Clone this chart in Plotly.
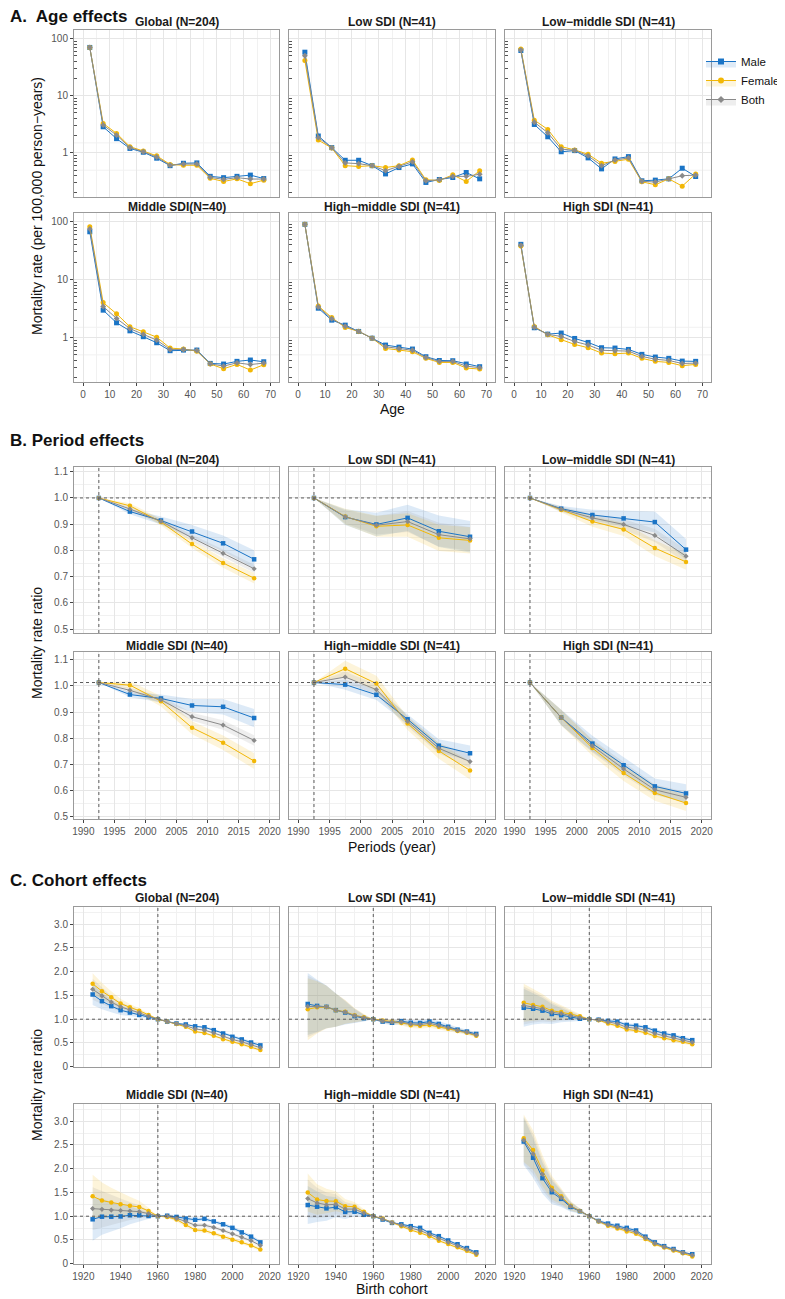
import plotly.graph_objects as go

# ---------------- data ----------------
age_groups = [2.5, 7.5, 12.5, 17.5, 22.5, 27.5, 32.5, 37.5, 42.5, 47.5, 52.5, 57.5, 62.5, 67.5]
periods = [1992.5, 1997.5, 2002.5, 2007.5, 2012.5, 2017.5]
cohorts = [1925, 1930, 1935, 1940, 1945, 1950, 1955, 1960, 1965, 1970,
           1975, 1980, 1985, 1990, 1995, 2000, 2005, 2010, 2015]

age_titles = ["Global (N=204)", "Low SDI (N=41)", "Low\u2212middle SDI (N=41)",
              "Middle SDI(N=40)", "High\u2212middle SDI (N=41)", "High SDI (N=41)"]
pc_titles = ["Global (N=204)", "Low SDI (N=41)", "Low\u2212middle SDI (N=41)",
             "Middle SDI (N=40)", "High\u2212middle SDI (N=41)", "High SDI (N=41)"]

# Age effects: mortality rate per 100,000 person-years
age_global_male = [70, 2.87, 1.78, 1.20, 1.03, 0.81, 0.60, 0.66, 0.67, 0.39, 0.37, 0.39, 0.41, 0.357]
age_global_female = [70, 3.28, 2.20, 1.29, 1.08, 0.89, 0.63, 0.61, 0.61, 0.36, 0.317, 0.353, 0.29, 0.335]
age_global_both = [70, 3.07, 2.05, 1.24, 1.05, 0.85, 0.61, 0.64, 0.64, 0.375, 0.345, 0.37, 0.35, 0.35]

age_low_male = [57.8, 1.98, 1.24, 0.745, 0.745, 0.60, 0.43, 0.556, 0.644, 0.305, 0.344, 0.372, 0.455, 0.353]
age_low_female = [41.4, 1.68, 1.22, 0.60, 0.58, 0.60, 0.556, 0.60, 0.756, 0.34, 0.33, 0.414, 0.317, 0.49]
age_low_both = [50, 1.85, 1.23, 0.67, 0.65, 0.60, 0.49, 0.58, 0.70, 0.326, 0.34, 0.39, 0.39, 0.425]

age_lowmid_male = [61.8, 3.15, 1.92, 1.05, 1.10, 0.82, 0.527, 0.786, 0.863, 0.326, 0.335, 0.353, 0.541, 0.388]
age_lowmid_female = [66, 3.75, 2.58, 1.29, 1.13, 0.95, 0.66, 0.707, 0.776, 0.313, 0.278, 0.353, 0.263, 0.43]
age_lowmid_both = [63, 3.45, 2.26, 1.17, 1.11, 0.89, 0.60, 0.75, 0.82, 0.32, 0.31, 0.353, 0.40, 0.41]

age_mid_male = [67, 2.96, 1.79, 1.30, 1.03, 0.81, 0.59, 0.605, 0.605, 0.356, 0.347, 0.386, 0.407, 0.38]
age_mid_female = [82, 4.0, 2.56, 1.53, 1.25, 1.01, 0.655, 0.63, 0.58, 0.347, 0.288, 0.342, 0.273, 0.338]
age_mid_both = [75, 3.42, 2.13, 1.42, 1.13, 0.90, 0.62, 0.62, 0.595, 0.35, 0.32, 0.364, 0.34, 0.36]

age_highmid_male = [90, 3.2, 1.99, 1.63, 1.27, 0.97, 0.738, 0.68, 0.63, 0.464, 0.40, 0.396, 0.347, 0.312]
age_highmid_female = [90, 3.5, 2.2, 1.49, 1.27, 0.97, 0.646, 0.605, 0.566, 0.435, 0.37, 0.37, 0.296, 0.284]
age_highmid_both = [90, 3.35, 2.1, 1.56, 1.27, 0.97, 0.69, 0.64, 0.60, 0.45, 0.385, 0.385, 0.32, 0.30]

age_high_male = [40.6, 1.47, 1.14, 1.19, 0.96, 0.82, 0.664, 0.655, 0.62, 0.51, 0.458, 0.435, 0.39, 0.386]
age_high_female = [38, 1.55, 1.11, 0.91, 0.757, 0.664, 0.537, 0.523, 0.537, 0.435, 0.386, 0.37, 0.325, 0.342]
age_high_both = [39, 1.5, 1.13, 1.04, 0.85, 0.74, 0.60, 0.59, 0.58, 0.47, 0.42, 0.40, 0.355, 0.36]

# Period effects: mortality rate ratio, with half-widths of the confidence bands
per_global_male = [1.0, 0.948, 0.914, 0.872, 0.827, 0.766]
per_global_female = [1.0, 0.970, 0.908, 0.824, 0.752, 0.694]
per_global_both = [1.0, 0.958, 0.911, 0.848, 0.789, 0.730]
per_global_male_hw = [0, 0.010, 0.015, 0.025, 0.030, 0.035]
per_global_female_hw = [0, 0.010, 0.012, 0.015, 0.018, 0.020]
per_global_both_hw = [0, 0.008, 0.010, 0.012, 0.014, 0.015]

per_low_male = [1.0, 0.927, 0.899, 0.924, 0.873, 0.852]
per_low_female = [1.0, 0.929, 0.892, 0.897, 0.848, 0.838]
per_low_both = [1.0, 0.928, 0.896, 0.910, 0.860, 0.844]
per_low_male_hw = [0, 0.030, 0.045, 0.050, 0.060, 0.060]
per_low_female_hw = [0, 0.030, 0.040, 0.045, 0.050, 0.050]
per_low_both_hw = [0, 0.025, 0.035, 0.040, 0.045, 0.045]

per_lowmid_male = [1.0, 0.959, 0.935, 0.922, 0.908, 0.803]
per_lowmid_female = [1.0, 0.954, 0.910, 0.880, 0.809, 0.756]
per_lowmid_both = [1.0, 0.957, 0.924, 0.899, 0.857, 0.778]
per_lowmid_male_hw = [0, 0.010, 0.020, 0.030, 0.040, 0.040]
per_lowmid_female_hw = [0, 0.010, 0.020, 0.025, 0.030, 0.030]
per_lowmid_both_hw = [0, 0.010, 0.015, 0.020, 0.025, 0.025]

per_mid_male = [1.013, 0.967, 0.952, 0.925, 0.920, 0.877]
per_mid_female = [1.013, 1.003, 0.941, 0.840, 0.782, 0.712]
per_mid_both = [1.013, 0.983, 0.947, 0.882, 0.850, 0.791]
per_mid_male_hw = [0, 0.010, 0.015, 0.025, 0.030, 0.035]
per_mid_female_hw = [0, 0.015, 0.020, 0.025, 0.028, 0.030]
per_mid_both_hw = [0, 0.010, 0.012, 0.015, 0.018, 0.020]

per_highmid_male = [1.013, 1.005, 0.966, 0.872, 0.771, 0.742]
per_highmid_female = [1.013, 1.066, 1.009, 0.856, 0.751, 0.676]
per_highmid_both = [1.013, 1.034, 0.986, 0.864, 0.761, 0.710]
per_highmid_male_hw = [0, 0.020, 0.020, 0.020, 0.025, 0.030]
per_highmid_female_hw = [0, 0.030, 0.030, 0.025, 0.030, 0.035]
per_highmid_both_hw = [0, 0.020, 0.020, 0.020, 0.020, 0.025]

per_high_male = [1.013, 0.879, 0.779, 0.696, 0.615, 0.588]
per_high_female = [1.013, 0.879, 0.762, 0.666, 0.590, 0.551]
per_high_both = [1.013, 0.879, 0.770, 0.682, 0.602, 0.573]
per_high_male_hw = [0, 0.030, 0.030, 0.030, 0.030, 0.035]
per_high_female_hw = [0, 0.030, 0.030, 0.030, 0.030, 0.030]
per_high_both_hw = [0, 0.030, 0.025, 0.025, 0.020, 0.020]

period_ref = [1.0, 1.0, 1.0, 1.013, 1.013, 1.013]

# Cohort effects: mortality rate ratio, with half-widths of the confidence bands
coh_global_male = [1.52, 1.38, 1.275, 1.19, 1.14, 1.09, 1.04, 1.0, 0.95, 0.91, 0.89, 0.85, 0.83, 0.77, 0.70, 0.63, 0.575, 0.51, 0.45]
coh_global_female = [1.745, 1.59, 1.46, 1.33, 1.25, 1.18, 1.09, 1.0, 0.95, 0.90, 0.84, 0.74, 0.71, 0.65, 0.58, 0.525, 0.475, 0.42, 0.35]
coh_global_both = [1.63, 1.49, 1.36, 1.26, 1.20, 1.135, 1.06, 1.0, 0.95, 0.905, 0.865, 0.795, 0.77, 0.71, 0.64, 0.575, 0.525, 0.465, 0.40]
coh_global_hw = [0.22, 0.17, 0.13, 0.10, 0.07, 0.05, 0.03, 0, 0.01, 0.015, 0.02, 0.02, 0.025, 0.025, 0.025, 0.03, 0.03, 0.03, 0.03]

coh_low_male = [1.32, 1.28, 1.26, 1.19, 1.14, 1.065, 1.02, 1.0, 0.95, 0.925, 0.96, 0.925, 0.92, 0.95, 0.90, 0.84, 0.78, 0.74, 0.69]
coh_low_female = [1.21, 1.25, 1.255, 1.19, 1.155, 1.085, 1.04, 1.0, 0.975, 0.95, 0.92, 0.875, 0.86, 0.88, 0.84, 0.80, 0.75, 0.715, 0.65]
coh_low_both = [1.27, 1.265, 1.26, 1.19, 1.15, 1.075, 1.03, 1.0, 0.96, 0.94, 0.94, 0.90, 0.89, 0.915, 0.87, 0.82, 0.765, 0.73, 0.67]
coh_low_hw = [0.65, 0.55, 0.45, 0.35, 0.25, 0.15, 0.07, 0, 0.04, 0.05, 0.05, 0.06, 0.06, 0.06, 0.06, 0.05, 0.05, 0.04, 0.04]

coh_lowmid_male = [1.24, 1.22, 1.18, 1.11, 1.085, 1.04, 1.01, 1.0, 0.99, 0.965, 0.95, 0.88, 0.865, 0.83, 0.76, 0.70, 0.66, 0.60, 0.56]
coh_lowmid_female = [1.345, 1.30, 1.26, 1.18, 1.15, 1.11, 1.06, 1.0, 0.98, 0.91, 0.86, 0.785, 0.76, 0.715, 0.645, 0.60, 0.56, 0.525, 0.475]
coh_lowmid_both = [1.29, 1.26, 1.22, 1.145, 1.12, 1.075, 1.035, 1.0, 0.985, 0.94, 0.905, 0.83, 0.81, 0.77, 0.70, 0.65, 0.61, 0.56, 0.515]
coh_lowmid_hw = [0.40, 0.33, 0.27, 0.21, 0.15, 0.10, 0.05, 0, 0.02, 0.03, 0.03, 0.035, 0.035, 0.035, 0.035, 0.035, 0.035, 0.035, 0.035]

coh_mid_male = [0.935, 0.99, 0.99, 0.995, 1.02, 1.02, 1.005, 1.0, 1.01, 0.985, 0.95, 0.925, 0.945, 0.89, 0.83, 0.755, 0.66, 0.57, 0.45]
coh_mid_female = [1.42, 1.33, 1.29, 1.25, 1.22, 1.195, 1.11, 1.0, 0.985, 0.93, 0.815, 0.71, 0.70, 0.64, 0.57, 0.506, 0.45, 0.386, 0.30]
coh_mid_both = [1.16, 1.145, 1.13, 1.12, 1.11, 1.095, 1.055, 1.0, 1.0, 0.955, 0.89, 0.81, 0.81, 0.765, 0.70, 0.63, 0.56, 0.485, 0.385]
coh_mid_hw = [0.45, 0.38, 0.31, 0.25, 0.19, 0.13, 0.07, 0, 0.03, 0.04, 0.04, 0.04, 0.04, 0.04, 0.04, 0.04, 0.04, 0.04, 0.04]

coh_highmid_male = [1.235, 1.20, 1.165, 1.19, 1.09, 1.095, 1.03, 1.0, 0.93, 0.86, 0.83, 0.79, 0.755, 0.65, 0.58, 0.49, 0.41, 0.33, 0.24]
coh_highmid_female = [1.50, 1.35, 1.32, 1.315, 1.21, 1.20, 1.095, 1.0, 0.95, 0.87, 0.79, 0.71, 0.65, 0.58, 0.485, 0.415, 0.345, 0.275, 0.19]
coh_highmid_both = [1.37, 1.28, 1.24, 1.25, 1.15, 1.15, 1.065, 1.0, 0.94, 0.865, 0.81, 0.75, 0.70, 0.615, 0.53, 0.45, 0.375, 0.30, 0.215]
coh_highmid_hw = [0.40, 0.32, 0.26, 0.21, 0.15, 0.10, 0.05, 0, 0.02, 0.02, 0.02, 0.025, 0.025, 0.025, 0.025, 0.025, 0.02, 0.02, 0.02]

coh_high_male = [2.57, 2.23, 1.80, 1.505, 1.365, 1.195, 1.105, 1.0, 0.90, 0.845, 0.80, 0.755, 0.70, 0.57, 0.45, 0.37, 0.31, 0.24, 0.20]
coh_high_female = [2.64, 2.39, 1.96, 1.60, 1.42, 1.22, 1.11, 1.0, 0.89, 0.80, 0.74, 0.68, 0.63, 0.52, 0.41, 0.34, 0.28, 0.22, 0.155]
coh_high_both = [2.60, 2.31, 1.88, 1.55, 1.39, 1.21, 1.11, 1.0, 0.895, 0.82, 0.77, 0.72, 0.665, 0.545, 0.43, 0.355, 0.295, 0.23, 0.18]
coh_high_hw = [0.50, 0.42, 0.33, 0.25, 0.17, 0.10, 0.05, 0, 0.03, 0.03, 0.03, 0.03, 0.03, 0.03, 0.03, 0.025, 0.02, 0.02, 0.02]

cohort_ref_year = 1960
period_ref_year = 1992.5

# ---------------- assembly ----------------
age_sets = [
    (age_global_male, age_global_female, age_global_both),
    (age_low_male, age_low_female, age_low_both),
    (age_lowmid_male, age_lowmid_female, age_lowmid_both),
    (age_mid_male, age_mid_female, age_mid_both),
    (age_highmid_male, age_highmid_female, age_highmid_both),
    (age_high_male, age_high_female, age_high_both),
]
per_sets = [
    ((per_global_male, per_global_male_hw), (per_global_female, per_global_female_hw), (per_global_both, per_global_both_hw)),
    ((per_low_male, per_low_male_hw), (per_low_female, per_low_female_hw), (per_low_both, per_low_both_hw)),
    ((per_lowmid_male, per_lowmid_male_hw), (per_lowmid_female, per_lowmid_female_hw), (per_lowmid_both, per_lowmid_both_hw)),
    ((per_mid_male, per_mid_male_hw), (per_mid_female, per_mid_female_hw), (per_mid_both, per_mid_both_hw)),
    ((per_highmid_male, per_highmid_male_hw), (per_highmid_female, per_highmid_female_hw), (per_highmid_both, per_highmid_both_hw)),
    ((per_high_male, per_high_male_hw), (per_high_female, per_high_female_hw), (per_high_both, per_high_both_hw)),
]
coh_sets = [
    ((coh_global_male, coh_global_hw), (coh_global_female, coh_global_hw), (coh_global_both, coh_global_hw)),
    ((coh_low_male, coh_low_hw), (coh_low_female, coh_low_hw), (coh_low_both, coh_low_hw)),
    ((coh_lowmid_male, coh_lowmid_hw), (coh_lowmid_female, coh_lowmid_hw), (coh_lowmid_both, coh_lowmid_hw)),
    ((coh_mid_male, coh_mid_hw), (coh_mid_female, coh_mid_hw), (coh_mid_both, coh_mid_hw)),
    ((coh_highmid_male, coh_highmid_hw), (coh_highmid_female, coh_highmid_hw), (coh_highmid_both, coh_highmid_hw)),
    ((coh_high_male, coh_high_hw), (coh_high_female, coh_high_hw), (coh_high_both, coh_high_hw)),
]

# The page body keeps an 8px margin, so the figure starts 8px into the window
# and is sized to end exactly at the window edge.
OFF = 8
W, H = 785 - OFF, 1299 - OFF
FONT = "Liberation Sans, Arial, sans-serif"
series_names = ["Male", "Female", "Both"]
line_cols = ["#1a74c6", "#f2b705", "#8a8a8a"]
fill_cols = ["rgba(26,116,198,0.15)", "rgba(242,183,5,0.15)", "rgba(138,138,138,0.15)"]
legend_fills = ["rgba(26,116,198,0.14)", "rgba(242,183,5,0.14)", "rgba(138,138,138,0.14)"]
symbols = ["square", "circle", "diamond"]
msizes = [5, 5, 4.5]
frame_col = "#9a9a9a"
grid_col = "#e6e6e6"
minor_col = "#f1f1f1"
tick_font = dict(family=FONT, size=10, color="#555555")

# window-pixel layout (reference picture coordinates)
cols_px = [(74, 279), (289, 495), (505, 711)]
sec_rows_px = [[(30, 197), (213, 382)], [(467, 633), (652, 819)], [(907, 1067), (1104, 1264)]]
title_y_px = [[22, 207], [460, 646], [898, 1095]]


def fx(px):
    return max(0.0, (px - OFF) / W)


def fy(py):
    return 1 - (py - OFF) / H


fig = go.Figure()
layout = dict(width=W, height=H, margin=dict(l=0, r=0, t=0, b=0, autoexpand=False),
              paper_bgcolor="white", plot_bgcolor="white",
              font=dict(family=FONT, color="#000"), showlegend=True)
annotations = []
shapes = []

logticks = [round(v * m, 3) for m in (0.1, 1, 10) for v in range(2, 10)]
age_minor_grid_log = [-0.5, 0.5, 1.5]   # log10 positions of ggplot minor breaks

for s in range(3):
    for p in range(6):
        n = s * 6 + p + 1
        r, c = p // 3, p % 3
        xn = "x" if n == 1 else f"x{n}"
        yn = "y" if n == 1 else f"y{n}"
        xk = "xaxis" if n == 1 else f"xaxis{n}"
        yk = "yaxis" if n == 1 else f"yaxis{n}"
        top, bot = sec_rows_px[s][r]
        bottom_row = r == 1
        left_col = c == 0
        x0p, x1p = cols_px[c]
        xa = dict(domain=[fx(x0p), fx(x1p)], anchor=yn, showline=True, mirror=True,
                  linecolor=frame_col, linewidth=1, showgrid=True, gridcolor=grid_col,
                  gridwidth=1, zeroline=False, tickmode="array",
                  ticks="outside" if bottom_row else "", ticklen=3, tickcolor="#444",
                  showticklabels=bottom_row, tickfont=tick_font)
        ya = dict(domain=[fy(bot), fy(top)], anchor=xn, showline=True, mirror=True,
                  linecolor=frame_col, linewidth=1, showgrid=True, gridcolor=grid_col,
                  gridwidth=1, zeroline=False, tickmode="array",
                  ticks="outside" if left_col else "", ticklen=3, tickcolor="#444",
                  showticklabels=left_col, tickfont=tick_font)
        if s == 0:
            xa.update(range=[-3.4, 73.2], tickvals=[0, 10, 20, 30, 40, 50, 60, 70],
                      minor=dict(tickvals=[5, 15, 25, 35, 45, 55, 65], showgrid=True,
                                 gridcolor=minor_col, ticks=""))
            ya.update(type="log", range=[-0.77, 2.15], tickvals=[1, 10, 100],
                      ticktext=["1", "10", "100"],
                      minor=dict(tickvals=logticks, ticks="inside", ticklen=3,
                                 tickcolor="#555", showgrid=False))
            for gv in age_minor_grid_log:
                shapes.append(dict(type="line", xref="paper", yref=yn, x0=fx(x0p), x1=fx(x1p),
                                   y0=gv, y1=gv, line=dict(color=minor_col, width=1),
                                   layer="below"))
            xs = age_groups
            for k in range(3):
                fig.add_trace(go.Scatter(x=xs, y=age_sets[p][k], mode="lines+markers",
                                         xaxis=xn, yaxis=yn, showlegend=False,
                                         line=dict(color=line_cols[k], width=1),
                                         marker=dict(symbol=symbols[k], size=msizes[k], color=line_cols[k])))
        else:
            if s == 1:
                xs = periods
                sets = per_sets[p]
                xa.update(range=[1988.5, 2021.5],
                          tickvals=[1990, 1995, 2000, 2005, 2010, 2015, 2020],
                          minor=dict(tickvals=[1992.5, 1997.5, 2002.5, 2007.5, 2012.5, 2017.5],
                                     showgrid=True, gridcolor=minor_col, ticks=""))
                yr = [0.485, 1.118] if r == 0 else [0.49, 1.13]
                ya.update(range=yr, tickvals=[0.5, 0.6, 0.7, 0.8, 0.9, 1.0, 1.1],
                          ticktext=["0.5", "0.6", "0.7", "0.8", "0.9", "1.0", "1.1"],
                          minor=dict(tickvals=[0.55, 0.65, 0.75, 0.85, 0.95, 1.05],
                                     showgrid=True, gridcolor=minor_col, ticks=""))
                href = period_ref[p]
                vref = period_ref_year
            else:
                xs = cohorts
                sets = coh_sets[p]
                xa.update(range=[1915, 2025], tickvals=[1920, 1940, 1960, 1980, 2000, 2020],
                          minor=dict(tickvals=[1930, 1950, 1970, 1990, 2010],
                                     showgrid=True, gridcolor=minor_col, ticks=""))
                ya.update(range=[-0.005, 3.36], tickvals=[0, 0.5, 1.0, 1.5, 2.0, 2.5, 3.0],
                          ticktext=["0", "0.5", "1.0", "1.5", "2.0", "2.5", "3.0"],
                          minor=dict(tickvals=[0.25, 0.75, 1.25, 1.75, 2.25, 2.75, 3.25],
                                     showgrid=True, gridcolor=minor_col, ticks=""))
                href = 1.0
                vref = cohort_ref_year
            # reference lines
            shapes.append(dict(type="line", xref="paper", yref=yn, x0=fx(x0p), x1=fx(x1p),
                               y0=href, y1=href,
                               line=dict(color="#5a5a5a", width=1, dash="dot"), layer="above"))
            shapes.append(dict(type="line", xref=xn, yref="paper", x0=vref, x1=vref,
                               y0=fy(bot), y1=fy(top),
                               line=dict(color="#5a5a5a", width=1, dash="dot"), layer="above"))
            # ribbons
            for k in range(3):
                vals, hw = sets[k]
                up = [v + h for v, h in zip(vals, hw)]
                lo = [v - h for v, h in zip(vals, hw)]
                fig.add_trace(go.Scatter(x=xs, y=up, mode="lines", line=dict(width=0),
                                         xaxis=xn, yaxis=yn, showlegend=False, hoverinfo="skip"))
                fig.add_trace(go.Scatter(x=xs, y=lo, mode="lines", line=dict(width=0),
                                         fill="tonexty", fillcolor=fill_cols[k],
                                         xaxis=xn, yaxis=yn, showlegend=False, hoverinfo="skip"))
            for k in range(3):
                vals, hw = sets[k]
                fig.add_trace(go.Scatter(x=xs, y=vals, mode="lines+markers",
                                         xaxis=xn, yaxis=yn, showlegend=False,
                                         line=dict(color=line_cols[k], width=1),
                                         marker=dict(symbol=symbols[k], size=msizes[k] - 0.5, color=line_cols[k])))
        layout[xk] = xa
        layout[yk] = ya
        # panel title
        ttl = age_titles[p] if s == 0 else pc_titles[p]
        annotations.append(dict(text=f"<b>{ttl}</b>", xref="paper", yref="paper",
                                x=fx((x0p + x1p) / 2), y=fy(title_y_px[s][r]), showarrow=False,
                                xanchor="center", yanchor="middle",
                                font=dict(family=FONT, size=12, color="#1a1a1a")))

# legend entries
for k in range(3):
    fig.add_trace(go.Scatter(x=[None], y=[None], name=series_names[k], mode="lines+markers",
                             fill="toself", fillcolor=legend_fills[k],
                             line=dict(color=line_cols[k], width=1),
                             marker=dict(symbol=symbols[k], size=msizes[k] + 1, color=line_cols[k]),
                             xaxis="x", yaxis="y", showlegend=True))

# section titles (the first one sits just inside the top edge of the figure)
for txt, ypx in [("A.  Age effects", 17), ("B. Period effects", 440), ("C. Cohort effects", 880)]:
    annotations.append(dict(text=f"<b>{txt}</b>", xref="paper", yref="paper", x=fx(3),
                            y=fy(ypx), showarrow=False, xanchor="left", yanchor="middle",
                            font=dict(family=FONT, size=17, color="#111")))
# axis titles
for txt, ypx in [("Mortality rate (per 100,000 person\u2212years)", 206),
                 ("Mortality rate ratio", 643), ("Mortality rate ratio", 1085)]:
    annotations.append(dict(text=txt, xref="paper", yref="paper", x=fx(37), y=fy(ypx),
                            showarrow=False, textangle=-90, xanchor="center", yanchor="middle",
                            font=dict(family=FONT, size=14, color="#111")))
for txt, ypx in [("Age", 409), ("Periods (year)", 847), ("Birth cohort", 1289)]:
    annotations.append(dict(text=txt, xref="paper", yref="paper", x=fx(392), y=fy(ypx),
                            showarrow=False, xanchor="center", yanchor="middle",
                            font=dict(family=FONT, size=14, color="#111")))

layout["annotations"] = annotations
layout["shapes"] = shapes
layout["legend"] = dict(x=1.0, y=fy(47), xanchor="right", yanchor="top",
                        traceorder="normal",
                        font=dict(family=FONT, size=11.5, color="#111"),
                        bgcolor="rgba(0,0,0,0)", tracegroupgap=0, itemwidth=30)
fig.update_layout(**layout)
fig.write_html("out.html")
